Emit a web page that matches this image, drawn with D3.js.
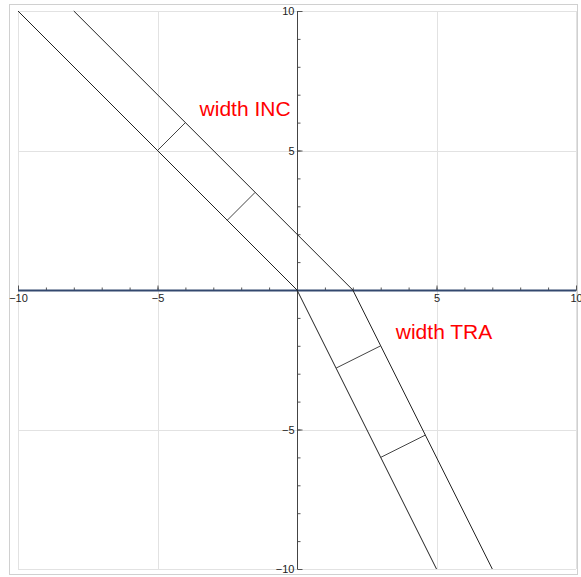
<!DOCTYPE html>
<html>
<head>
<meta charset="utf-8">
<script src="https://cdn.jsdelivr.net/npm/d3@7"></script>
<style>
  html, body { margin: 0; padding: 0; background: #fff; }
  svg { display: block; font-family: "Liberation Sans", Arial, sans-serif; }
</style>
</head>
<body>
<svg id="chart" width="581" height="577"></svg>
<script>
// ---- data ----
const xDomain = [-10, 10];
const yDomain = [-10, 10];
const majorTicks = [-10, -5, 5, 10];
const gridValues = [-10, -5, 0, 5, 10];
const minorTicks = d3.range(-10, 11, 1);

const innerBoundary = [[-10, 10], [0, 0], [5, -10]];
const outerBoundary = [[-8, 10], [2, 0], [7, -10]];

const widthMarks = [
  [[-5, 5], [-4, 6]],
  [[-2.5, 2.5], [-1.5, 3.5]],
  [[1.4, -2.8], [3, -2]],
  [[3, -6], [4.6, -5.2]]
];

const labels = [
  { text: "width INC", x: -1.86, y: 6.52 },
  { text: "width TRA", x: 5.27, y: -1.5 }
];

// ---- drawing ----
const svg = d3.select("#chart");
const x = d3.scaleLinear().domain(xDomain).range([18, 576]);
const y = d3.scaleLinear().domain(yDomain).range([569, 11]);

// outer frame
svg.append("rect")
  .attr("x", 9.5).attr("y", 4.5)
  .attr("width", 568).attr("height", 570)
  .attr("fill", "none").attr("stroke", "#d0d0d0").attr("stroke-width", 1);

// grid
const grid = svg.append("g").attr("stroke", "#e2e2e2").attr("stroke-width", 1);
grid.selectAll("line.v").data(gridValues).join("line")
  .attr("x1", d => Math.round(x(d)) + 0.5).attr("x2", d => Math.round(x(d)) + 0.5)
  .attr("y1", y(10)).attr("y2", y(-10));
grid.selectAll("line.h").data(gridValues).join("line")
  .attr("y1", d => Math.round(y(d)) + 0.5).attr("y2", d => Math.round(y(d)) + 0.5)
  .attr("x1", x(-10)).attr("x2", x(10));

// axes
const x0 = Math.round(x(0)) + 0.5;
const y0 = Math.round(y(0)) + 0.5;

const xMinor = svg.append("g").attr("transform", `translate(0,${y0})`)
  .call(d3.axisBottom(x).tickValues(minorTicks).tickSizeInner(-3).tickSizeOuter(0).tickFormat(""));
const xMajor = svg.append("g").attr("transform", `translate(0,${y0})`)
  .call(d3.axisBottom(x).tickValues(majorTicks).tickSizeInner(-5).tickSizeOuter(0).tickPadding(4));
const yMinor = svg.append("g").attr("transform", `translate(${x0},0)`)
  .call(d3.axisLeft(y).tickValues(minorTicks).tickSizeInner(-3).tickSizeOuter(0).tickFormat(""));
const yMajor = svg.append("g").attr("transform", `translate(${x0},0)`)
  .call(d3.axisLeft(y).tickValues(majorTicks).tickSizeInner(-5).tickSizeOuter(0).tickPadding(3));

[xMinor, xMajor, yMinor, yMajor].forEach(g => {
  g.select(".domain").remove();
  g.selectAll(".tick line").attr("stroke", "#555");
  g.selectAll(".tick text").attr("fill", "#222").style("font-size", "11px")
    .style("font-family", "'Liberation Sans', Arial, sans-serif");
});

// vertical axis line
svg.append("line")
  .attr("x1", x0).attr("x2", x0).attr("y1", y(10)).attr("y2", y(-10))
  .attr("stroke", "#444").attr("stroke-width", 1);
// horizontal axis line
svg.append("line")
  .attr("x1", x(-10)).attr("x2", x(10)).attr("y1", y0).attr("y2", y0)
  .attr("stroke", "#33486e").attr("stroke-width", 2);

// boundary lines
const line = d3.line().x(d => x(d[0])).y(d => y(d[1]));
svg.selectAll("path.boundary").data([innerBoundary, outerBoundary]).join("path")
  .attr("class", "boundary")
  .attr("d", line)
  .attr("fill", "none").attr("stroke", "#222").attr("stroke-width", 1);

// width markers
svg.selectAll("path.mark").data(widthMarks).join("path")
  .attr("class", "mark")
  .attr("d", line)
  .attr("fill", "none").attr("stroke", "#444").attr("stroke-width", 1);

// labels
svg.selectAll("text.lbl").data(labels).join("text")
  .attr("class", "lbl")
  .attr("x", d => x(d.x)).attr("y", d => y(d.y))
  .attr("text-anchor", "middle").attr("dominant-baseline", "central")
  .attr("fill", "#ff0000")
  .style("font-size", "21px")
  .text(d => d.text);
</script>
</body>
</html>
